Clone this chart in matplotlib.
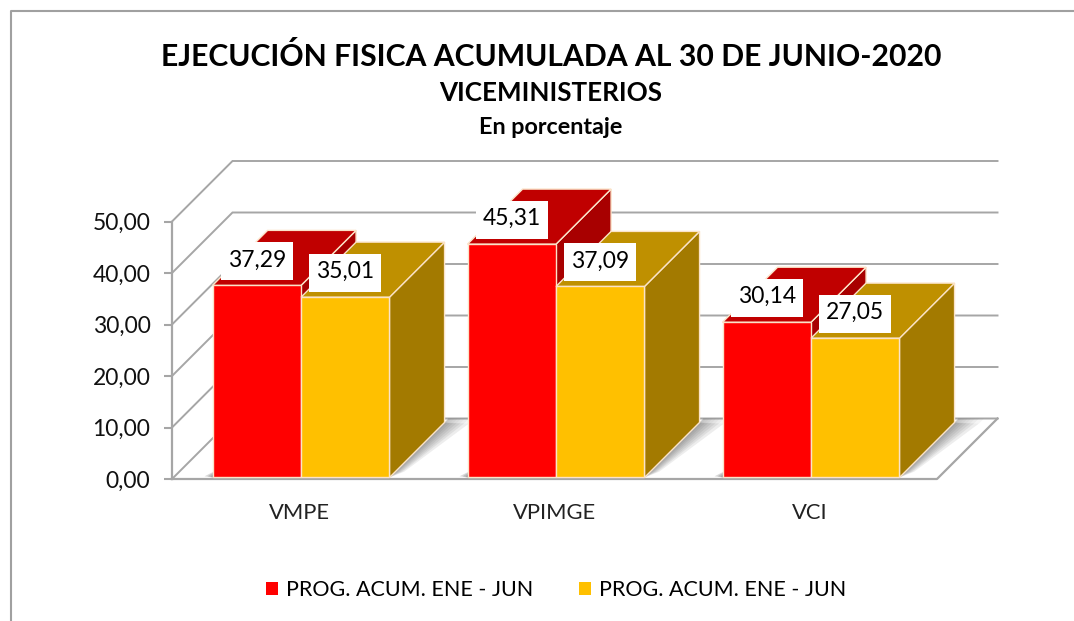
import matplotlib
matplotlib.use("Agg")
import matplotlib.pyplot as plt
from matplotlib.patches import Polygon, Patch, Rectangle

categories = ["VMPE", "VPIMGE", "VCI"]
prog_values = [37.29, 45.31, 30.14]
ejec_values = [35.01, 37.09, 27.05]
legend_labels = ["PROG. ACUM. ENE - JUN", "PROG. ACUM. ENE - JUN"]
y_ticks = [0, 10, 20, 30, 40, 50]

W, H = 1074, 621
plt.rcParams["font.family"] = ["Lato", "DejaVu Sans"]

fig = plt.figure(figsize=(W / 100, H / 100), dpi=100)
# axes = front plane of the fake 3d box
ax = fig.add_axes([172 / W, 1 - 479 / H, 765 / W, 257.5 / H])
ax.set_xlim(0, 3)
ax.set_ylim(0, 50)
ax.patch.set_alpha(0)
for s in ax.spines.values():
    s.set_visible(False)

px_x = 3 / 765
px_y = 50 / 257.5
DX = 60.5 * px_x
DY = 60.5 * px_y
GRID = "#a6a6a6"


def oblique(x, y, z):
    return x + z * DX, y + z * DY


def face(pts, **kw):
    ax.add_patch(Polygon([oblique(*p) for p in pts], closed=True, clip_on=False, **kw))


# walls and grid
for t in y_ticks:
    x0, y0 = oblique(0, t, 0)
    x1, y1 = oblique(0, t, 1)
    x2, y2 = oblique(3, t, 1)
    ax.plot([x0, x1, x2], [y0, y1, y2], color=GRID, lw=1.4, clip_on=False, zorder=1,
            solid_joinstyle="miter")
ax.plot([0, 3, 3 + DX], [0, 0, DY], color=GRID, lw=1.6, clip_on=False, zorder=1)
ax.plot([0, 0], [0, 50], color=GRID, lw=1.6, clip_on=False, zorder=1)

bar_w = 0.347
z0 = 0.025
z1 = z0 + 0.91
edge = "#fbe3c8"
colors = [("#ff0000", "#c00000", "#a80000"), ("#ffc000", "#bf9000", "#a37a00")]


def draw_bar(x, v, cols, zo):
    front, top, side = cols
    r = x + bar_w
    face([(r, 0, z0), (r, v, z0), (r, v, z1), (r, 0, z1)], facecolor=side, edgecolor=edge, lw=1, zorder=zo)
    face([(x, v, z0), (r, v, z0), (r, v, z1), (x, v, z1)], facecolor=top, edgecolor=edge, lw=1, zorder=zo + 0.1)
    face([(x, 0, z0), (r, 0, z0), (r, v, z0), (x, v, z0)], facecolor=front, edgecolor=edge, lw=1, zorder=zo + 0.2)


for i, cat in enumerate(categories):
    c = i + 0.5
    left = c - bar_w
    r = c + bar_w
    # soft shadow on the floor
    for k in [0.012, 0.024, 0.036, 0.05, 0.065, 0.08, 0.1]:
        face([(r, 0, z0), (r + k * 0.35, 0, 0.12), (r + k, 0, z1 - 0.02), (r, 0, z1)],
             facecolor="#555555", edgecolor="none", alpha=0.1, zorder=2)
        face([(r, 0, z1), (r + k, 0, z1 - 0.02), (r + k, 0, 1.0), (r, 0, 1.0)],
             facecolor="#777777", edgecolor="none", alpha=0.07, zorder=2)
    for k in [0.012, 0.024, 0.036]:
        face([(left, 0, z0), (left - k, 0, z0 + 0.02), (left, 0, 0.2)],
             facecolor="#555555", edgecolor="none", alpha=0.22, zorder=2)
    draw_bar(left, prog_values[i], colors[0], 3)
    draw_bar(c, ejec_values[i], colors[1], 4)
    # data labels: fixed-size white boxes above each bar front
    for x, v in [(left, prog_values[i]), (c, ejec_values[i])]:
        bx = x + bar_w / 2 + z0 * DX
        by = v + 26 * px_y
        ax.add_patch(Rectangle((bx - 36 * px_x, by - 19 * px_y), 72 * px_x, 38 * px_y, facecolor="white",
                               edgecolor="none", clip_on=False, zorder=6))
        ax.text(bx, by + 3 * px_y, f"{v:.2f}".replace(".", ","), ha="center", va="center_baseline",
                fontsize=16.5, color="black", zorder=7, clip_on=False)

ax.set_xticks([i + 0.5 for i in range(3)])
ax.set_xticklabels(categories, fontsize=15.8, color="#222222")
ax.tick_params(axis="x", length=0, pad=17)
ax.set_yticks(y_ticks)
ax.set_yticklabels([f"{t:.2f}".replace(".", ",") for t in y_ticks], fontsize=16.5, color="#111111")
ax.tick_params(axis="y", length=6, width=1.5, color=GRID, pad=9.5)

fig.text(551 / W, 1 - 57 / H, "EJECUCIÓN FISICA ACUMULADA AL 30 DE JUNIO-2020", ha="center", va="center",
         fontsize=21.7, fontweight="bold", color="black")
fig.text(551 / W, 1 - 93 / H, "VICEMINISTERIOS", ha="center", va="center", fontsize=18.7,
         fontweight="bold", color="black")
fig.text(551 / W, 1 - 128 / H, "En porcentaje", ha="center", va="center", fontsize=16.8,
         fontweight="bold", color="black")

handles = [Patch(facecolor="#ff0000", label=legend_labels[0]), Patch(facecolor="#ffc000", label=legend_labels[1])]
fig.legend(handles=handles, loc="center", bbox_to_anchor=(556 / W, 1 - 590 / H), ncol=2, frameon=False,
           fontsize=15.5, handlelength=0.55, handleheight=0.55, handletextpad=0.37, columnspacing=2.14)

# outer chart frame, only partly inside the crop
fig.add_artist(plt.Line2D([11 / W, 11 / W, 1], [0, 1 - 11 / H, 1 - 11 / H], color="#a0a0a0", lw=1.5))

fig.savefig("out.png", dpi=100)
